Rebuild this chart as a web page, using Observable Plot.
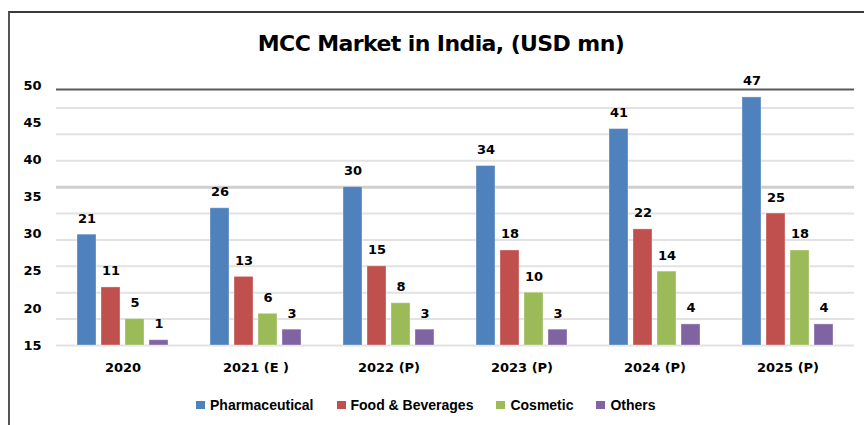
<!DOCTYPE html>
<html><head><meta charset="utf-8">
<script src="https://cdn.jsdelivr.net/npm/d3@7"></script>
<script src="https://cdn.jsdelivr.net/npm/@observablehq/plot@0.6"></script>
<style>
html,body{margin:0;padding:0;background:#fff}
body{width:864px;height:425px;overflow:hidden;position:relative;font-family:"DejaVu Sans",sans-serif}
#frame{position:absolute;left:8px;top:11px;width:880px;height:440px;border-top:2px solid #3a3a3a;border-left:2px solid #555;box-sizing:border-box}
#title{position:absolute;left:18px;width:846px;top:31px;text-align:center;font-weight:bold;font-size:22px;letter-spacing:-0.6px;line-height:26px;color:#000}
#chart{position:absolute;left:0;top:70px}
#legend{position:absolute;top:397px;left:196px;display:flex;align-items:center;font:bold 14px "Liberation Sans",sans-serif;color:#000;white-space:nowrap}
#legend .item{display:flex;align-items:center;margin-right:23px}
#legend .sw{width:9px;height:8px;margin-right:5px}
</style></head>
<body>
<div id="frame"></div>
<div id="title">MCC Market in India, (USD mn)</div>
<div id="chart"></div>
<div id="legend"></div>
<script>
const years = ["2020", "2021 (E )", "2022 (P)", "2023 (P)", "2024 (P)", "2025 (P)"];
const series = ["Pharmaceutical", "Food & Beverages", "Cosmetic", "Others"];
const pharmaceutical = [21, 26, 30, 34, 41, 47];
const foodBeverages = [11, 13, 15, 18, 22, 25];
const cosmetic = [5, 6, 8, 10, 14, 18];
const others = [1, 3, 3, 3, 4, 4];
const colors = ["#4F81BD", "#C0504D", "#9BBB59", "#8064A2"];
const yTickLabels = [15, 20, 25, 30, 35, 40, 45, 50];
const gridValues = [0, 5, 10, 15, 20, 25, 30, 35, 40, 45];
const yMax = 48.5;

const seriesValues = [pharmaceutical, foodBeverages, cosmetic, others];
const rows = years.flatMap((yr, i) => series.map((s, j) => ({year: yr, series: s, value: seriesValues[j][i]})));

// the reference's y labels are evenly spread from the baseline to just above the top line
const labelTop = 49.26;
const tickPositions = yTickLabels.map((L) => (L - yTickLabels[0]) / (yTickLabels[yTickLabels.length - 1] - yTickLabels[0]) * labelTop);

const chart = Plot.plot({
  width: 864,
  height: 315,
  marginLeft: 53,
  marginRight: 8,
  marginTop: 19,
  marginBottom: 40,
  style: {fontFamily: "DejaVu Sans", background: "transparent", overflow: "visible"},
  fx: {domain: years, padding: 0, label: null},
  x: {domain: series, paddingInner: 0.22, paddingOuter: 0.863, axis: null},
  y: {domain: [0, yMax], label: null},
  color: {domain: series, range: colors},
  marks: [
    Plot.ruleY(gridValues, {stroke: (d) => d === 30 ? "#cfcfcf" : "#e2e2e2", strokeWidth: (d) => d === 30 ? 3 : 2}),
    Plot.ruleY([yMax], {stroke: "#5a5a5a", strokeWidth: 2}),
    Plot.barY(rows, {fx: "year", x: "series", y: "value", fill: "series", stroke: "#ffffff", strokeOpacity: 0.35, strokeWidth: 1}),
    Plot.text(rows, {fx: "year", x: "series", y: "value", text: (d) => String(d.value), lineAnchor: "bottom", dy: -12, fontSize: 13, fontWeight: "bold", fill: "#000"}),
    Plot.axisY(tickPositions, {tickSize: 0, tickPadding: 15, fontSize: 13, fontWeight: "bold", fill: "#000", label: null,
      tickFormat: (d) => String(yTickLabels[tickPositions.indexOf(d)])}),
    Plot.axisFx({anchor: "bottom", tickSize: 0, tickPadding: 17, fontSize: 13, fontWeight: "bold", fill: "#000", label: null})
  ]
});
document.getElementById("chart").appendChild(chart);

const legend = document.getElementById("legend");
series.forEach((s, i) => {
  const item = document.createElement("div");
  item.className = "item";
  const sw = document.createElement("span");
  sw.className = "sw";
  sw.style.background = colors[i];
  const t = document.createElement("span");
  t.textContent = s;
  item.appendChild(sw);
  item.appendChild(t);
  legend.appendChild(item);
});
</script>
</body></html>
